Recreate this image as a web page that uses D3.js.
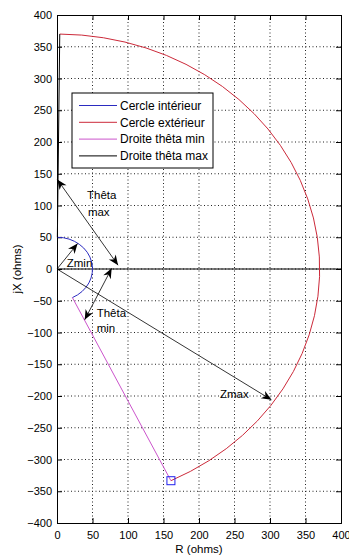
<!DOCTYPE html>
<html>
<head>
<meta charset="utf-8">
<script src="https://cdn.jsdelivr.net/npm/d3@7"></script>
<style>
  body { margin: 0; background: #fff; }
  text { font-family: "Liberation Sans", Arial, sans-serif; fill: #000; }
</style>
</head>
<body>
<script>
//chart data
var xTicks = [0, 50, 100, 150, 200, 250, 300, 350, 400];
var yTicks = [-400, -350, -300, -250, -200, -150, -100, -50, 0, 50, 100, 150, 200, 250, 300, 350, 400];
var seriesNames = ["Cercle intérieur", "Cercle extérieur", "Droite thêta min", "Droite thêta max"];
var radii = [50, 370];            //Zmin, Zmax (ohms)
var thetaDeg = [-64.3, 89.4];     //thêta min, thêta max (degrees)
var realAxis = [[0, 0], [400, 0]];

//annotation arrows, in data units
var arrowThetaMax = [[0.4, 141], [86, 6]];
var arrowThetaMin = [[77, 1], [39, -80]];
var arrowZmin = [[0, 0], [29, 40]];
var arrowZmax = [[0, 0], [302, -206]];
var labels = [
    {text: "Thêta", at: [42.3, 110]},
    {text: "max", at: [43.5, 83.5]},
    {text: "Thêta", at: [55.9, -75]},
    {text: "min", at: [55.9, -99.2]},
    {text: "Zmin", at: [13.7, 3]},
    {text: "Zmax", at: [229.6, -203]}
];

var colors = ["#2b2bc0", "#cc2a3a", "#cc55cc", "#000"];

window.onload = setChart();

function setChart(){
    var width = 349,
        height = 556;
    var left = 57, right = 341, top = 15, bottom = 523;

    var svg = d3.select("body")
        .append("svg")
        .attr("width", width)
        .attr("height", height);

    var x = d3.scaleLinear().domain([0, 400]).range([left, right]);
    var y = d3.scaleLinear().domain([-400, 400]).range([bottom, top]);

    //dotted grid
    svg.selectAll(".gx")
        .data(xTicks.slice(1, -1))
        .enter()
        .append("line")
        .attr("x1", function(d){ return x(d); })
        .attr("x2", function(d){ return x(d); })
        .attr("y1", top).attr("y2", bottom)
        .attr("stroke", "#222").attr("stroke-dasharray", "1,2.5");
    svg.selectAll(".gy")
        .data(yTicks.slice(1, -1))
        .enter()
        .append("line")
        .attr("y1", function(d){ return y(d); })
        .attr("y2", function(d){ return y(d); })
        .attr("x1", left).attr("x2", right)
        .attr("stroke", "#222").attr("stroke-dasharray", "1,2.5");

    //axes, ticks inward on all sides
    var tk = 5;
    svg.append("g").attr("transform", "translate(0," + bottom + ")")
        .call(d3.axisBottom(x).tickValues(xTicks).tickSize(-tk).tickPadding(8));
    svg.append("g").attr("transform", "translate(0," + top + ")")
        .call(d3.axisTop(x).tickValues(xTicks).tickSize(-tk).tickFormat(""));
    svg.append("g").attr("transform", "translate(" + left + ",0)")
        .call(d3.axisLeft(y).tickValues(yTicks).tickSize(-tk).tickPadding(5));
    svg.append("g").attr("transform", "translate(" + right + ",0)")
        .call(d3.axisRight(y).tickValues(yTicks).tickSize(-tk).tickFormat(""));
    svg.selectAll(".domain").attr("stroke", "#000");
    svg.selectAll(".tick line").attr("stroke", "#000");
    svg.selectAll(".tick text").attr("font-size", 11)
        .attr("font-family", "Liberation Sans, Arial, sans-serif");

    svg.append("text").attr("x", (left + right) / 2).attr("y", 553)
        .attr("text-anchor", "middle").attr("font-size", 11.5).text("R (ohms)");
    svg.append("text").attr("transform", "translate(21," + ((top + bottom) / 2) + ") rotate(-90)")
        .attr("text-anchor", "middle").attr("font-size", 11.5).text("jX (ohms)");

    var line = d3.line()
        .x(function(d){ return x(d[0]); })
        .y(function(d){ return y(d[1]); });

    //real axis line
    svg.append("path").datum(realAxis).attr("d", line)
        .attr("fill", "none").attr("stroke", "#000").attr("stroke-width", 1.2);

    //arcs drawn in data units, scaled onto the axes
    var rad = Math.PI / 180;
    var kx = x(1) - x(0), ky = y(0) - y(1);
    var arcs = svg.append("g")
        .attr("transform", "translate(" + x(0) + "," + y(0) + ") scale(" + kx + "," + (-ky) + ")");
    radii.forEach(function(r, i){
        var p = d3.path();
        p.arc(0, 0, r, thetaDeg[0] * rad, thetaDeg[1] * rad, false);
        arcs.append("path").attr("d", p.toString())
            .attr("fill", "none").attr("stroke", colors[i])
            .attr("stroke-width", 1).attr("vector-effect", "non-scaling-stroke");
    });

    //theta rays between the two circles
    thetaDeg.forEach(function(t, i){
        var pts = radii.map(function(r){ return [r * Math.cos(t * rad), r * Math.sin(t * rad)]; });
        svg.append("path").datum(pts).attr("d", line)
            .attr("fill", "none").attr("stroke", colors[2 + i]);
    });

    //square marker at the corner
    var corner = [radii[1] * Math.cos(thetaDeg[0] * rad), radii[1] * Math.sin(thetaDeg[0] * rad)];
    svg.append("rect")
        .attr("x", x(corner[0]) - 4).attr("y", y(corner[1]) - 4)
        .attr("width", 8).attr("height", 8)
        .attr("fill", "none").attr("stroke", "#2020ee");

    //arrows
    function head(p, q){
        var a = Math.atan2(y(p[1]) - y(q[1]), x(p[0]) - x(q[0])) * 180 / Math.PI;
        svg.append("path")
            .attr("d", "M0,0 L-10,-4.2 L-7,0 L-10,4.2 Z")
            .attr("transform", "translate(" + x(p[0]) + "," + y(p[1]) + ") rotate(" + a + ")")
            .attr("fill", "#000");
    }
    function arrow(pts, both){
        svg.append("path").datum(pts).attr("d", line)
            .attr("fill", "none").attr("stroke", "#000").attr("stroke-width", 0.8);
        head(pts[1], pts[0]);
        if (both) head(pts[0], pts[1]);
    }
    arrow(arrowThetaMax, true);
    arrow(arrowThetaMin, true);
    arrow(arrowZmin, false);
    arrow(arrowZmax, false);

    svg.selectAll(".lbl")
        .data(labels)
        .enter()
        .append("text")
        .attr("x", function(d){ return x(d.at[0]); })
        .attr("y", function(d){ return y(d.at[1]); })
        .attr("font-size", 11.5)
        .text(function(d){ return d.text; });

    //legend
    var lg = svg.append("g");
    lg.append("rect").attr("x", 72).attr("y", 93).attr("width", 141).attr("height", 75)
        .attr("fill", "#fff").attr("stroke", "#000");
    var rows = lg.selectAll(".row")
        .data(seriesNames)
        .enter()
        .append("g")
        .attr("transform", function(d, i){ return "translate(0," + (105.5 + i * 16.8) + ")"; });
    rows.append("line").attr("x1", 79).attr("x2", 117)
        .attr("stroke", function(d, i){ return colors[i]; });
    rows.append("text").attr("x", 120).attr("y", 4.3)
        .attr("font-size", 12).text(function(d){ return d; });
}
</script>
</body>
</html>
